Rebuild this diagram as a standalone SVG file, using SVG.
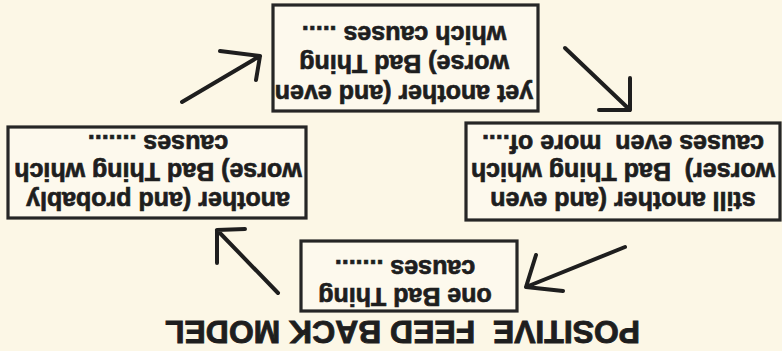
<svg xmlns="http://www.w3.org/2000/svg" width="782" height="351" viewBox="0 0 782 351">
<style>
.bg{fill:#fcf7e6}
.box{fill:#fdf9ed;stroke:#262626;stroke-width:3.2}
.t{font-family:"Liberation Sans",Arial,sans-serif;font-weight:bold;font-size:25px;fill:#1e1e1e;stroke:#1e1e1e;stroke-width:0.7;text-anchor:middle;white-space:pre}
.title{font-size:31px;stroke-width:0.9}
.arr{fill:none;stroke:#1e1e1e;stroke-width:4;stroke-linecap:round;stroke-linejoin:round}
</style>
<rect class="bg" width="782" height="351"/>
<g transform="rotate(180 391 175.5)">
<text id="title" class="t title" x="379.5" y="30" textLength="475" lengthAdjust="spacingAndGlyphs">POSITIVE  FEED BACK MODEL</text>
<g id="n1"><rect class="box" x="265" y="40" width="216" height="70"/><text class="t" x="377" y="63">one Bad Thing</text><text class="t" x="377" y="91">causes .......</text></g>
<g id="n2"><rect class="box" x="476" y="133" width="298" height="91"/><text class="t" x="624" y="159">another (and probably</text><text class="t" x="624" y="188">worse) Bad Thing which</text><text class="t" x="624" y="216">causes .......</text></g>
<g id="n3"><rect class="box" x="244" y="240" width="265" height="106"/><text class="t" x="378" y="266">yet another (and even</text><text class="t" x="378" y="296">worse) Bad Thing</text><text class="t" x="378" y="325">which causes .....</text></g>
<g id="n4"><rect class="box" x="2" y="131" width="314" height="97"/><text class="t" x="159" y="159">still another (and even</text><text class="t" x="159" y="188">worser)  Bad Thing which</text><text class="t" x="159" y="216">causes even  more of....</text></g>
<g id="connectors">
<path class="arr" d="M504,58 L565,121 M537,122 L565,121 L565,88"/>
<path class="arr" d="M600,249 L522,295 M562,300 L522,295 L526,271"/>
<path class="arr" d="M217,303 L152,241 M152,273 L152,241 L183,241"/>
<path class="arr" d="M157,104 L256,64 M246,96 L256,64 L219,60"/>
</g>
</g>
</svg>
